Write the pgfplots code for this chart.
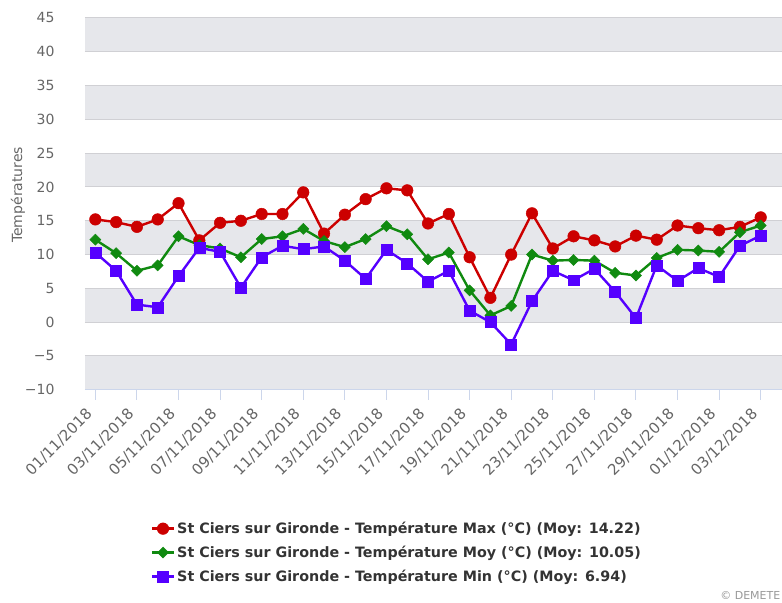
\documentclass[border=0pt]{standalone}
\usepackage{pgfplots}
\pgfplotsset{compat=1.18}
\usepackage{fontspec}
\setmainfont{DejaVu Sans}
\definecolor{cmax}{RGB}{204,0,0}
\definecolor{cmoy}{RGB}{16,138,16}
\definecolor{cmin}{RGB}{85,0,255}
\definecolor{band}{RGB}{230,231,235}
\definecolor{gridc}{RGB}{208,208,212}
\definecolor{axisc}{RGB}{204,214,235}
\definecolor{tickt}{RGB}{102,102,102}
\definecolor{legt}{RGB}{51,51,51}
\begin{document}
\begin{tikzpicture}[x=1pt,y=1pt]
\path (0,0) rectangle (782,603);
\begin{axis}[
  at={(85pt,213pt)}, anchor=south west,
  scale only axis, width=697pt, height=372pt,
  xmin=-0.5, xmax=33, ymin=-10, ymax=45,
  set layers=standard,
  axis x line*=bottom, axis y line*=left,
  x axis line style={draw=axisc, line width=1pt},
  y axis line style={draw=none},
  ytick={-10,-5,0,5,10,15,20,25,30,35,40,45},
  yticklabels={−10,−5,0,5,10,15,20,25,30,35,40,45},
  ytick style={draw=none},
  yticklabel style={font=\fontsize{14}{16}\selectfont, text=tickt, anchor=east, xshift=-17pt},
  ymajorgrids, major grid style={draw=gridc, line width=1pt},
  xtick={0,2,...,32},
  xticklabels={01/11/2018,03/11/2018,05/11/2018,07/11/2018,09/11/2018,11/11/2018,13/11/2018,15/11/2018,17/11/2018,19/11/2018,21/11/2018,23/11/2018,25/11/2018,27/11/2018,29/11/2018,01/12/2018,03/12/2018},
  tick align=outside, major tick length=10pt,
  xtick style={draw=axisc, line width=1pt},
  xticklabel style={xshift=-5pt, yshift=-11pt, font=\fontsize{15}{17}\selectfont, text=tickt, rotate=45, anchor=east, inner sep=1pt},
  every axis y label/.style={at={(axis description cs:-0.0961,0.524)}, rotate=90, anchor=center},
  ylabel={\fontsize{14}{16}\selectfont\color{tickt}Températures},
  legend style={at={(0.09,-0.345)}, anchor=north west, draw=none, fill=none,
    font=\bfseries\fontsize{14.3}{16}\selectfont, text=legt, row sep=7pt},
  legend cell align=left,
  legend image code/.code={\draw[mark repeat=2,mark phase=2] plot coordinates {(0pt,0pt)(11pt,0pt)(22pt,0pt)};},
]
\begin{pgfonlayer}{axis background}
\fill[band] (axis cs:-0.5,40) rectangle (axis cs:33,45);
\fill[band] (axis cs:-0.5,30) rectangle (axis cs:33,35);
\fill[band] (axis cs:-0.5,20) rectangle (axis cs:33,25);
\fill[band] (axis cs:-0.5,10) rectangle (axis cs:33,15);
\fill[band] (axis cs:-0.5,0) rectangle (axis cs:33,5);
\fill[band] (axis cs:-0.5,-10) rectangle (axis cs:33,-5);
\end{pgfonlayer}
\addplot[color=cmax, line width=2.4pt, mark=*, mark size=5.8pt, mark options={line width=0.5pt}] coordinates {
(0,15.2)(1,14.8)(2,14.1)(3,15.2)(4,17.6)(5,12.1)(6,14.7)(7,15.0)(8,16.0)(9,16.0)(10,19.2)(11,13.1)(12,15.9)(13,18.2)(14,19.8)(15,19.5)(16,14.6)(17,16.0)(18,9.6)(19,3.6)(20,10.0)(21,16.1)(22,10.9)(23,12.7)(24,12.1)(25,11.2)(26,12.8)(27,12.2)(28,14.3)(29,13.9)(30,13.6)(31,14.1)(32,15.5)};
\addlegendentry{St Ciers sur Gironde - Température Max (°C) (Moy: 14.22)}
\addplot[color=cmoy, line width=2.4pt, mark=square*, mark size=3.9pt, mark options={rotate=45, line width=0.5pt}] coordinates {
(0,12.2)(1,10.2)(2,7.6)(3,8.4)(4,12.7)(5,11.4)(6,10.9)(7,9.6)(8,12.3)(9,12.7)(10,13.8)(11,12.0)(12,11.1)(13,12.3)(14,14.2)(15,13.0)(16,9.3)(17,10.3)(18,4.7)(19,1.0)(20,2.4)(21,10.0)(22,9.1)(23,9.2)(24,9.1)(25,7.3)(26,6.9)(27,9.5)(28,10.7)(29,10.6)(30,10.4)(31,13.3)(32,14.3)};
\addlegendentry{St Ciers sur Gironde - Température Moy (°C) (Moy: 10.05)}
\addplot[color=cmin, line width=2.4pt, mark=square*, mark size=5.5pt, mark options={line width=0.5pt}] coordinates {
(0,10.3)(1,7.6)(2,2.6)(3,2.2)(4,6.8)(5,11.0)(6,10.4)(7,5.1)(8,9.6)(9,11.3)(10,10.8)(11,11.2)(12,9.1)(13,6.4)(14,10.7)(15,8.7)(16,6.0)(17,7.6)(18,1.7)(19,0.0)(20,-3.3)(21,3.1)(22,7.6)(23,6.2)(24,7.9)(25,4.5)(26,0.6)(27,8.4)(28,6.1)(29,8.0)(30,6.7)(31,11.3)(32,12.8)};
\addlegendentry{St Ciers sur Gironde - Température Min (°C) (Moy: 6.94)}
\end{axis}
\node[anchor=base east, font=\fontsize{11}{13}\selectfont, text={rgb,255:red,153;green,153;blue,153}, inner sep=0pt] at (781,3) {© DEMETE};
\end{tikzpicture}
\end{document}
